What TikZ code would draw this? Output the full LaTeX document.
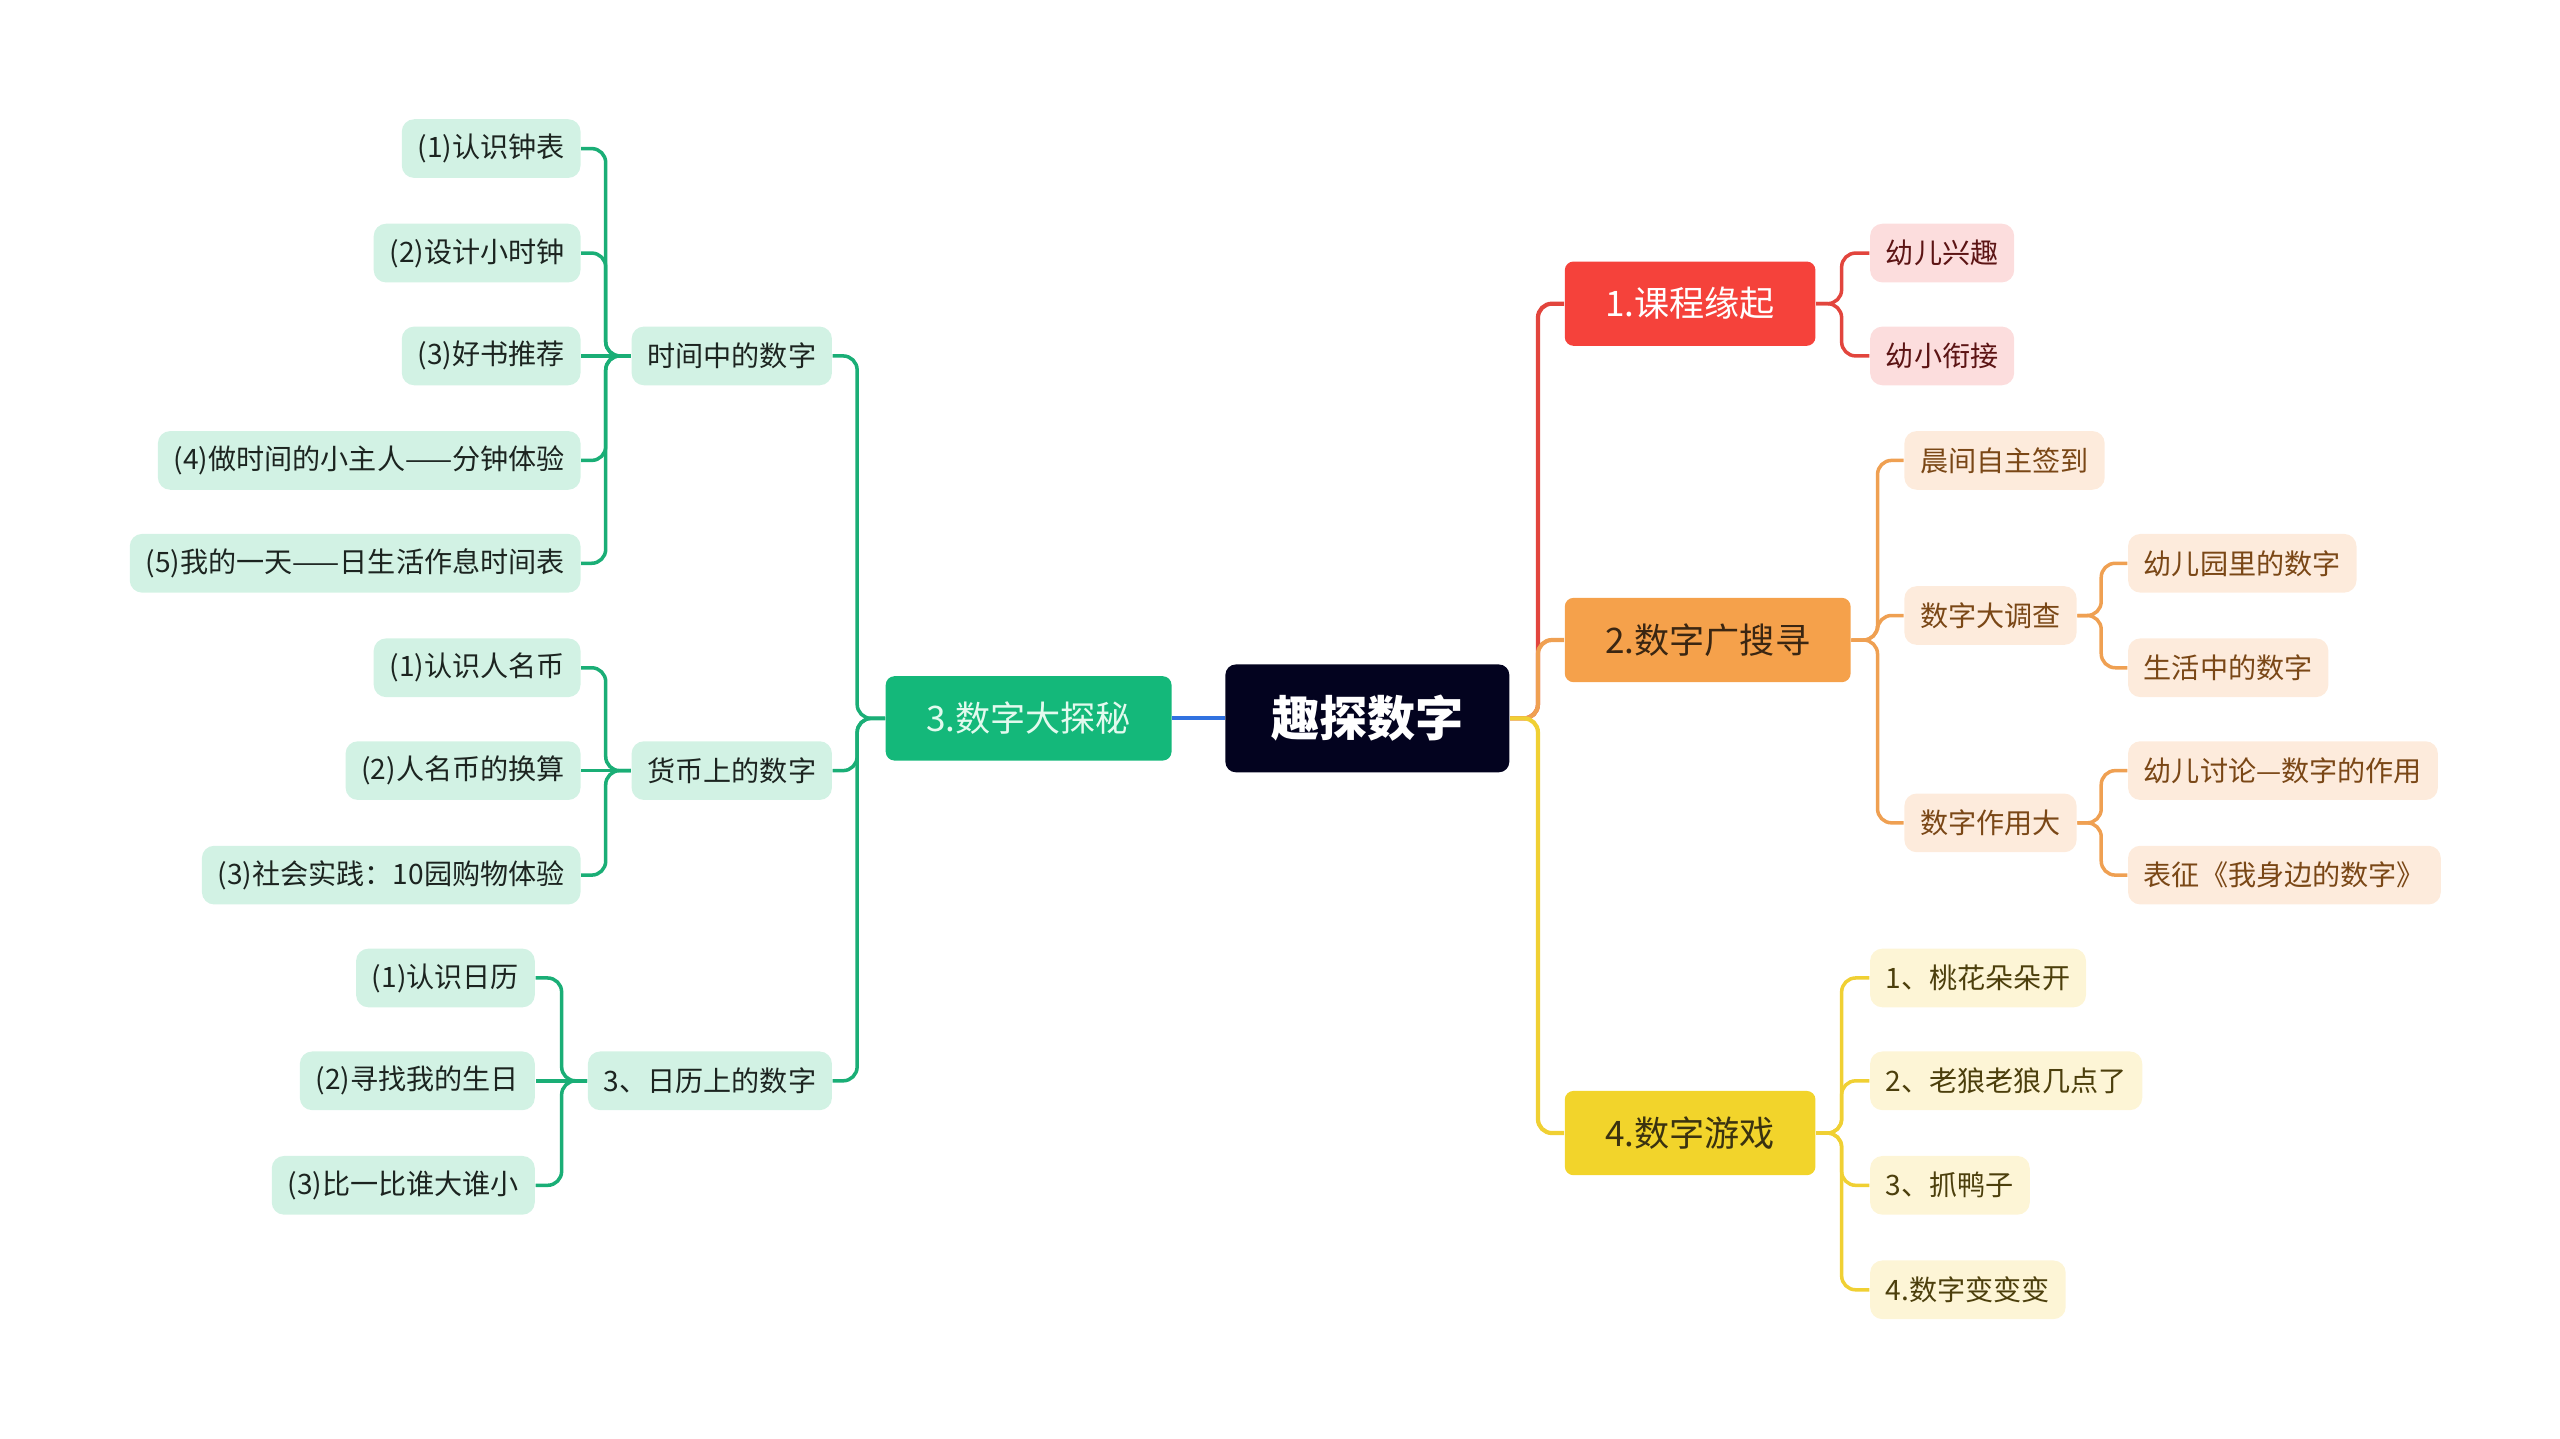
\documentclass[tikz,border=0pt]{standalone}
\usepackage{fontspec}
\setmainfont{Noto Sans CJK SC}
\definecolor{rootnavy}{HTML}{03031F}
\definecolor{gmain}{HTML}{14B87A}
\definecolor{gmaintext}{HTML}{E2FAEE}
\definecolor{gleaf}{HTML}{D2F2E4}
\definecolor{gline}{HTML}{1AAE76}
\definecolor{glinetext}{HTML}{1C2420}
\definecolor{bline}{HTML}{3172E0}
\definecolor{rmain}{HTML}{F5423B}
\definecolor{rleaf}{HTML}{FCDDDD}
\definecolor{rline}{HTML}{E2453D}
\definecolor{rtext}{HTML}{5C1414}
\definecolor{omain}{HTML}{F5A14B}
\definecolor{oleaf}{HTML}{FDEBDC}
\definecolor{oline}{HTML}{EFA052}
\definecolor{otext}{HTML}{7A4716}
\definecolor{omaintext}{HTML}{3A2612}
\definecolor{ymain}{HTML}{F2D42B}
\definecolor{yleaf}{HTML}{FDF5D6}
\definecolor{yline}{HTML}{F0D033}
\definecolor{ytext}{HTML}{4C3F0C}
\definecolor{ymaintext}{HTML}{3A3210}
\begin{document}
\begin{tikzpicture}[x=0.016327cm, y=-0.016327cm,
  rootbox/.style={fill=rootnavy, text=white, rounded corners=3pt, minimum height=30.7pt,
    inner xsep=13pt, inner ysep=0pt, font=\fontsize{13.7}{15}\selectfont\bfseries},
  mainbox/.style={rounded corners=2.5pt, minimum height=24pt, inner xsep=11.5pt,
    inner ysep=0pt, font=\fontsize{10}{12}\selectfont},
  leafbox/.style={rounded corners=3.5pt, minimum height=16.7pt, inner xsep=4.5pt,
    inner ysep=0pt, font=\fontsize{8}{9}\selectfont},
  gleafbox/.style={leafbox, fill=gleaf, text=glinetext},
  rleafbox/.style={leafbox, fill=rleaf, text=rtext},
  oleafbox/.style={leafbox, fill=oleaf, text=otext},
  yleafbox/.style={leafbox, fill=yleaf, text=ytext},
  lnk/.style={line width=1pt, rounded corners=4pt},
  mainlnk/.style={line width=1.2pt, rounded corners=4pt}]
  \useasboundingbox (0,0) rectangle (1568,881);
  % Root
  \node[rootbox] (root) at (837.5,440) {趣探数字};
  % Main topics
  \node[mainbox, fill=gmain, text=gmaintext, anchor=east] (m3) at (718,440) {3.数字大探秘};
  \node[mainbox, fill=rmain, text=white, anchor=west] (m1) at (958,186) {1.课程缘起};
  \node[mainbox, fill=omain, text=omaintext, anchor=west] (m2) at (958,392) {2.数字广搜寻};
  \node[mainbox, fill=ymain, text=ymaintext, anchor=west] (m4) at (958,694) {4.数字游戏};
  % Left: 3.数字大探秘
  \node[gleafbox, anchor=east] (g1) at (510,218) {时间中的数字};
  \node[gleafbox, anchor=east] (g2) at (510,472) {货币上的数字};
  \node[gleafbox, anchor=east] (g3) at (510,662) {3、日历上的数字};
  \node[gleafbox, anchor=east] (t1) at (356,91) {(1)认识钟表};
  \node[gleafbox, anchor=east] (t2) at (356,155) {(2)设计小时钟};
  \node[gleafbox, anchor=east] (t3) at (356,218) {(3)好书推荐};
  \node[gleafbox, anchor=east] (t4) at (356,282) {(4)做时间的小主人——分钟体验};
  \node[gleafbox, anchor=east] (t5) at (356,345) {(5)我的一天——日生活作息时间表};
  \node[gleafbox, anchor=east] (c1) at (356,409) {(1)认识人名币};
  \node[gleafbox, anchor=east] (c2) at (356,472) {(2)人名币的换算};
  \node[gleafbox, anchor=east] (c3) at (356,536) {(3)社会实践：10园购物体验};
  \node[gleafbox, anchor=east] (d1) at (328,599) {(1)认识日历};
  \node[gleafbox, anchor=east] (d2) at (328,662) {(2)寻找我的生日};
  \node[gleafbox, anchor=east] (d3) at (328,726) {(3)比一比谁大谁小};
  % Right: 1.课程缘起
  \node[rleafbox, anchor=west] (r1) at (1145,155) {幼儿兴趣};
  \node[rleafbox, anchor=west] (r2) at (1145,218) {幼小衔接};
  % Right: 2.数字广搜寻
  \node[oleafbox, anchor=west] (o1) at (1166,282) {晨间自主签到};
  \node[oleafbox, anchor=west] (o2) at (1166,377) {数字大调查};
  \node[oleafbox, anchor=west] (o3) at (1166,504) {数字作用大};
  \node[oleafbox, anchor=west] (o21) at (1303,345) {幼儿园里的数字};
  \node[oleafbox, anchor=west] (o22) at (1303,409) {生活中的数字};
  \node[oleafbox, anchor=west] (o31) at (1303,472) {幼儿讨论—数字的作用};
  \node[oleafbox, anchor=west] (o32) at (1303,536) {表征《我身边的数字》};
  % Right: 4.数字游戏
  \node[yleafbox, anchor=west] (y1) at (1145,599) {1、桃花朵朵开};
  \node[yleafbox, anchor=west] (y2) at (1145,662) {2、老狼老狼几点了};
  \node[yleafbox, anchor=west] (y3) at (1145,726) {3、抓鸭子};
  \node[yleafbox, anchor=west] (y4) at (1145,790) {4.数字变变变};
  % Trunks
  \coordinate (kroot) at (942,440);
  \coordinate (km3) at (525,440);
  \coordinate (kg1) at (371,218);
  \coordinate (kg2) at (371,472);
  \coordinate (kg3) at (344,662);
  \coordinate (km1) at (1128,186);
  \coordinate (km2) at (1150,392);
  \coordinate (ko2) at (1287,377);
  \coordinate (ko3) at (1287,504);
  \coordinate (km4) at (1128,694);
  % Root connectors
  \draw[mainlnk, bline] (root.west) -- (m3.east);
  \draw[mainlnk, rline] (root.east) -- (kroot) |- (m1.west);
  \draw[mainlnk, oline] (root.east) -- (kroot) |- (m2.west);
  \draw[mainlnk, yline] (root.east) -- (kroot) |- (m4.west);
  % Green branch
  \draw[lnk, gline] (m3.west) -- (km3) |- (g1.east);
  \draw[lnk, gline] (m3.west) -- (km3) |- (g2.east);
  \draw[lnk, gline] (m3.west) -- (km3) |- (g3.east);
  \draw[lnk, gline] (g1.west) -- (kg1) |- (t1.east);
  \draw[lnk, gline] (g1.west) -- (kg1) |- (t2.east);
  \draw[lnk, gline] (g1.west) -- (t3.east);
  \draw[lnk, gline] (g1.west) -- (kg1) |- (t4.east);
  \draw[lnk, gline] (g1.west) -- (kg1) |- (t5.east);
  \draw[lnk, gline] (g2.west) -- (kg2) |- (c1.east);
  \draw[lnk, gline] (g2.west) -- (c2.east);
  \draw[lnk, gline] (g2.west) -- (kg2) |- (c3.east);
  \draw[lnk, gline] (g3.west) -- (kg3) |- (d1.east);
  \draw[lnk, gline] (g3.west) -- (d2.east);
  \draw[lnk, gline] (g3.west) -- (kg3) |- (d3.east);
  % Red branch
  \draw[lnk, rline] (m1.east) -- (km1) |- (r1.west);
  \draw[lnk, rline] (m1.east) -- (km1) |- (r2.west);
  % Orange branch
  \draw[lnk, oline] (m2.east) -- (km2) |- (o1.west);
  \draw[lnk, oline] (m2.east) -- (km2) |- (o2.west);
  \draw[lnk, oline] (m2.east) -- (km2) |- (o3.west);
  \draw[lnk, oline] (o2.east) -- (ko2) |- (o21.west);
  \draw[lnk, oline] (o2.east) -- (ko2) |- (o22.west);
  \draw[lnk, oline] (o3.east) -- (ko3) |- (o31.west);
  \draw[lnk, oline] (o3.east) -- (ko3) |- (o32.west);
  % Yellow branch
  \draw[lnk, yline] (m4.east) -- (km4) |- (y1.west);
  \draw[lnk, yline] (m4.east) -- (km4) |- (y2.west);
  \draw[lnk, yline] (m4.east) -- (km4) |- (y3.west);
  \draw[lnk, yline] (m4.east) -- (km4) |- (y4.west);
\end{tikzpicture}
\end{document}
